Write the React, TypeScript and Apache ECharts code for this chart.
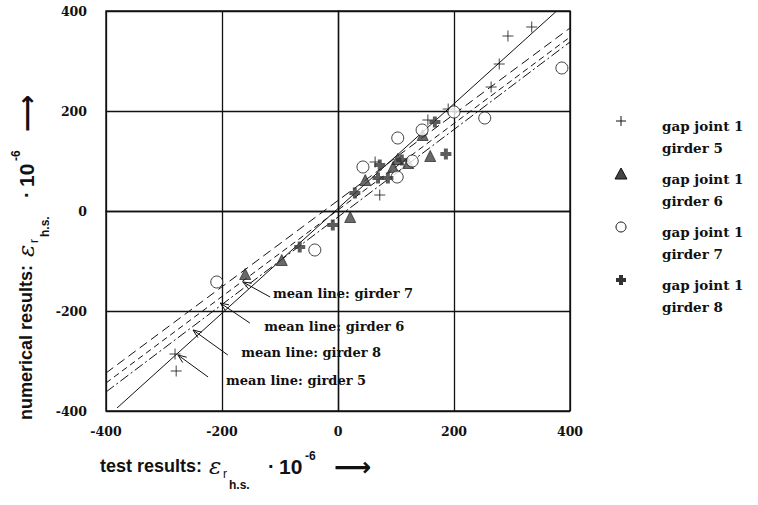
import React, { useEffect, useRef } from "react";
import * as echarts from "echarts";

// ---------- data ----------
const axisMin = -400;
const axisMax = 400;
const axisStep = 200;

const seriesNames = ["girder 5", "girder 6", "girder 7", "girder 8"];

const girder5: number[][] = [
  [334, 368], [293, 350], [278, 294], [264, 248], [190, 204], [155, 182],
  [64, 98], [72, 32], [-281, -286], [-279, -320],
];
const girder6: number[][] = [
  [-160, -126], [-97, -98], [21, -12], [47, 62], [95, 88], [103, 104],
  [121, 96], [146, 152], [159, 110],
];
const girder7: number[][] = [
  [386, 286], [253, 186], [200, 198], [145, 162], [103, 146], [43, 88],
  [128, 100], [102, 68], [-209, -142], [-40, -78],
];
const girder8: number[][] = [
  [167, 178], [186, 114], [72, 92], [110, 102], [86, 66], [69, 66],
  [29, 36], [-9, -28], [-66, -72],
];

// mean lines (end points)
const mean5: number[][] = [[-381, -394], [377, 400]];
const mean7: number[][] = [[-400, -324], [400, 366]];
const mean6: number[][] = [[-400, -344], [400, 348]];
const mean8: number[][] = [[-400, -362], [400, 338]];

// annotation arrows: tail -> head, text anchor (left, middle)
const annLabels = ["mean line: girder 7", "mean line: girder 6", "mean line: girder 8", "mean line: girder 5"];
const annTails: number[][] = [[-117, -172], [-152, -224], [-190, -288], [-224, -332]];
const annHeads: number[][] = [[-164, -142], [-203, -184], [-250, -238], [-276, -288]];
const annTexts: number[][] = [[-112, -164], [-127, -230], [-167, -282], [-193, -338]];

const legendLine1 = "gap joint 1";

// ---------- styles ----------
const INK = "#111";
const serifBold = 'bold 13px "DejaVu Serif"';
const legendFont = 'bold 13.5px "DejaVu Serif"';
const thinPlus = "path://M0,5L10,5M5,0L5,10";
const boldPlus = "path://M3.2,0H6.8V3.2H10V6.8H6.8V10H3.2V6.8H0V3.2H3.2Z";

function titlePieces(label: string, labelW: number, fs: number) {
  const mk = (text: string, dx: number, dy: number, font: string) => ({
    type: "text",
    x: dx,
    y: dy,
    style: { fill: INK, text, font, align: "left", textAlign: "left", verticalAlign: "middle", textVerticalAlign: "middle" },
  });
  return [
    mk(label, 0, 0, `bold ${fs}px "Liberation Sans"`),
    mk("\u03b5", labelW + 5, 0, 'italic 23px "DejaVu Serif"'),
    mk("r", labelW + 19, 8, '12px "Liberation Sans"'),
    mk("h.s.", labelW + 25, 19, 'bold 12px "Liberation Sans"'),
    mk("\u00b7", labelW + 64, 0, `bold 20px "Liberation Sans"`),
    mk("10", labelW + 75, 0, `bold 21px "Liberation Sans"`),
    mk("-6", labelW + 101, -10, 'bold 12px "Liberation Sans"'),
    mk("\u27f6", labelW + 130, 1, 'bold 26px "DejaVu Sans"'),
  ];
}

export default function App() {
  const ref = useRef<HTMLDivElement>(null);

  useEffect(() => {
    if (!ref.current) return;
    const chart = echarts.init(ref.current, null, { renderer: "svg" });

    const axisCommon = {
      type: "value",
      min: axisMin,
      max: axisMax,
      interval: axisStep,
      axisLine: { show: true, lineStyle: { color: INK, width: 1.4 } },
      axisTick: { show: false },
      splitLine: { show: true, lineStyle: { color: INK, width: 1.3 } },
      axisLabel: { color: INK, fontFamily: "DejaVu Serif", fontWeight: "bold", fontSize: 12.5 },
    };

    const lineSeries = (name: string, data: number[][], type: any) => ({
      type: "line",
      name,
      data,
      symbol: "none",
      silent: true,
      lineStyle: { color: INK, width: 1, type },
      z: 2,
    });

    const legendChildren: any[] = [];
    const legendMarkers = ["plus", "tri", "circ", "bplus"];
    const legendY = [121, 174, 227, 280];
    seriesNames.forEach((n, i) => {
      const cy = legendY[i];
      const cx = 621;
      const m = legendMarkers[i];
      if (m === "plus") {
        legendChildren.push({ type: "line", shape: { x1: cx - 5, y1: cy, x2: cx + 5, y2: cy }, style: { stroke: INK, lineWidth: 1 } });
        legendChildren.push({ type: "line", shape: { x1: cx, y1: cy - 5, x2: cx, y2: cy + 5 }, style: { stroke: INK, lineWidth: 1 } });
      } else if (m === "tri") {
        legendChildren.push({ type: "polygon", shape: { points: [[cx, cy - 6], [cx - 6, cy + 5], [cx + 6, cy + 5]] }, style: { fill: "#444", stroke: INK, lineWidth: 1 } });
      } else if (m === "circ") {
        legendChildren.push({ type: "circle", shape: { cx, cy, r: 5 }, style: { fill: "#fff", stroke: INK, lineWidth: 1 } });
      } else {
        legendChildren.push({ type: "polygon", shape: { points: [[cx - 2, cy - 5], [cx + 2, cy - 5], [cx + 2, cy - 2], [cx + 5, cy - 2], [cx + 5, cy + 2], [cx + 2, cy + 2], [cx + 2, cy + 5], [cx - 2, cy + 5], [cx - 2, cy + 2], [cx - 5, cy + 2], [cx - 5, cy - 2], [cx - 2, cy - 2]] }, style: { fill: "#333" } });
      }
      legendChildren.push({ type: "text", x: 662, y: cy + 5, style: { text: legendLine1, font: legendFont, fill: INK, align: "left", textAlign: "left", verticalAlign: "middle", textVerticalAlign: "middle" } });
      legendChildren.push({ type: "text", x: 662, y: cy + 27, style: { text: n, font: legendFont, fill: INK, align: "left", textAlign: "left", verticalAlign: "middle", textVerticalAlign: "middle" } });
    });

    const option: any = {
      animation: false,
      backgroundColor: "#fff",
      grid: { left: 106, right: 188, top: 11, bottom: 94, show: true, borderColor: INK, borderWidth: 1.4 },
      xAxis: { ...axisCommon, axisLabel: { ...axisCommon.axisLabel, margin: 14 } },
      yAxis: { ...axisCommon, axisLabel: { ...axisCommon.axisLabel, margin: 19 } },
      series: [
        lineSeries("mean girder 5", mean5, "solid"),
        lineSeries("mean girder 7", mean7, [9, 5]),
        lineSeries("mean girder 6", mean6, [6, 4]),
        lineSeries("mean girder 8", mean8, [10, 3, 2, 3]),
        {
          type: "scatter", name: seriesNames[0], data: girder5, symbol: thinPlus, symbolSize: 11,
          itemStyle: { color: "none", borderColor: INK, borderWidth: 1 }, z: 3,
        },
        {
          type: "scatter", name: seriesNames[1], data: girder6, symbol: "triangle", symbolSize: 11,
          itemStyle: { color: "#444", borderColor: INK, borderWidth: 0.8 }, z: 3,
        },
        {
          type: "scatter", name: seriesNames[2], data: girder7, symbol: "circle", symbolSize: 12,
          itemStyle: { color: "#fff", borderColor: INK, borderWidth: 1 }, z: 3,
        },
        {
          type: "scatter", name: seriesNames[3], data: girder8, symbol: boldPlus, symbolSize: 11,
          itemStyle: { color: "#333", borderWidth: 0 }, z: 4,
        },
        {
          type: "custom",
          name: "annotations",
          data: annHeads.map((h) => [h[0], h[1]]),
          encode: { x: 0, y: 1 },
          clip: false,
          silent: true,
          z: 5,
          renderItem: (params: any, api: any) => {
            const i = params.dataIndex;
            const t = api.coord(annTails[i]);
            const h = api.coord(annHeads[i]);
            const tp = api.coord(annTexts[i]);
            const ang = Math.atan2(h[1] - t[1], h[0] - t[0]);
            const L = 9, s = 0.38;
            const p1 = [h[0] - L * Math.cos(ang - s), h[1] - L * Math.sin(ang - s)];
            const p2 = [h[0] - L * Math.cos(ang + s), h[1] - L * Math.sin(ang + s)];
            return {
              type: "group",
              children: [
                { type: "line", shape: { x1: t[0], y1: t[1], x2: h[0], y2: h[1] }, style: { stroke: INK, lineWidth: 1 } },
                { type: "polyline", shape: { points: [p1, h, p2] }, style: { stroke: INK, fill: "none", lineWidth: 1 } },
                {
                  type: "text", x: tp[0], y: tp[1],
                  style: { text: annLabels[i], font: serifBold, fill: INK, align: "left", textAlign: "left", verticalAlign: "middle", textVerticalAlign: "middle" },
                },
              ],
            };
          },
        },
      ],
      graphic: [
        { type: "group", x: 100, y: 466, children: titlePieces("test results:", 104, 18) },
        { type: "group", x: 26, y: 420, rotation: Math.PI / 2, children: titlePieces("numerical results:", 158, 18) },
        { type: "group", children: legendChildren },
      ],
    };

    chart.setOption(option);
    return () => chart.dispose();
  }, []);

  return (
    <div
      ref={ref}
      style={{ position: "absolute", left: 0, top: 0, width: 758, height: 505, background: "#fff" }}
    />
  );
}
